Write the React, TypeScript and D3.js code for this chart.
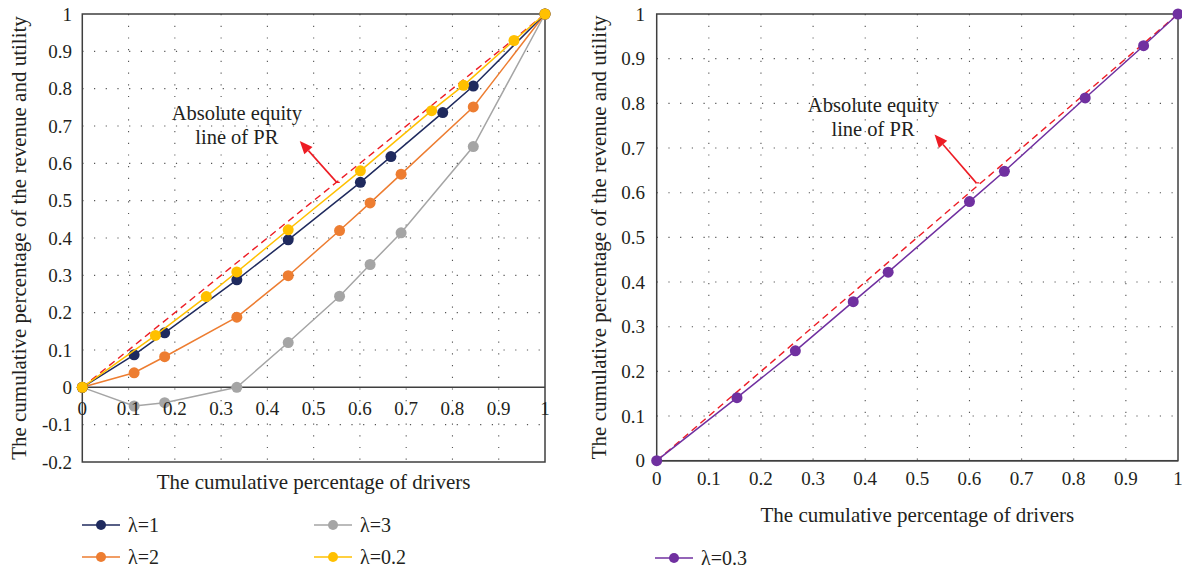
import * as d3 from 'd3';

// ---- data ----
const leftSeriesNames = ['λ=1', 'λ=2', 'λ=3', 'λ=0.2'];
const leftColors = ['#1f2a5e', '#ed7d31', '#a5a5a5', '#ffc000'];

const lambda1X = [0, 0.112, 0.178, 0.334, 0.445, 0.601, 0.667, 0.779, 0.845, 1];
const lambda1Y = [0, 0.087, 0.146, 0.288, 0.395, 0.549, 0.618, 0.736, 0.807, 1];

const lambda2X = [0, 0.112, 0.178, 0.334, 0.445, 0.556, 0.622, 0.689, 0.845, 1];
const lambda2Y = [0, 0.039, 0.082, 0.188, 0.299, 0.42, 0.494, 0.571, 0.751, 1];

const lambda3X = [0, 0.112, 0.178, 0.334, 0.445, 0.556, 0.622, 0.689, 0.845, 1];
const lambda3Y = [0, -0.05, -0.041, 0, 0.12, 0.244, 0.329, 0.414, 0.645, 1];

const lambda02X = [0, 0.158, 0.268, 0.334, 0.445, 0.601, 0.755, 0.824, 0.933, 1];
const lambda02Y = [0, 0.139, 0.243, 0.309, 0.422, 0.58, 0.741, 0.809, 0.929, 1];

const rightSeriesName = 'λ=0.3';
const rightColor = '#7030a0';
const lambda03X = [0, 0.154, 0.266, 0.377, 0.444, 0.6, 0.667, 0.822, 0.934, 1];
const lambda03Y = [0, 0.141, 0.246, 0.356, 0.422, 0.58, 0.648, 0.812, 0.929, 1];

// absolute equity line of PR
const equityX = [0, 1];
const equityY = [0, 1];

const xTicks = [0, 0.1, 0.2, 0.3, 0.4, 0.5, 0.6, 0.7, 0.8, 0.9, 1];
const xTickLabels = ['0', '0.1', '0.2', '0.3', '0.4', '0.5', '0.6', '0.7', '0.8', '0.9', '1'];
const leftYTicks = [-0.2, -0.1, 0, 0.1, 0.2, 0.3, 0.4, 0.5, 0.6, 0.7, 0.8, 0.9, 1];
const leftYTickLabels = ['-0.2', '-0.1', '0', '0.1', '0.2', '0.3', '0.4', '0.5', '0.6', '0.7', '0.8', '0.9', '1'];
const rightYTicks = [0, 0.1, 0.2, 0.3, 0.4, 0.5, 0.6, 0.7, 0.8, 0.9, 1];
const rightYTickLabels = ['0', '0.1', '0.2', '0.3', '0.4', '0.5', '0.6', '0.7', '0.8', '0.9', '1'];

const annotationLines = ['Absolute equity', 'line of PR'];

const FONT = '"Liberation Serif", "DejaVu Serif", serif';
const TEXT = '#231f20';
const FRAME = '#3f3f3f';

type Series = { name: string; color: string; xs: number[]; ys: number[] };

function Arrow({ x1, y1, x2, y2 }: { x1: number; y1: number; x2: number; y2: number }) {
  const ang = Math.atan2(y2 - y1, x2 - x1);
  const len = 13, half = 5.5;
  const bx = x2 - len * Math.cos(ang), by = y2 - len * Math.sin(ang);
  const px = -Math.sin(ang) * half, py = Math.cos(ang) * half;
  return (
    <g>
      <line x1={x1} y1={y1} x2={bx} y2={by} stroke="#ed1c24" strokeWidth={1.6} />
      <line x1={x1 - 1} y1={y1} x2={x1 + 3} y2={y1} stroke="#ed1c24" strokeWidth={1.2} />
      <polygon points={`${x2},${y2} ${bx + px},${by + py} ${bx - px},${by - py}`} fill="#ed1c24" />
    </g>
  );
}

function Panel(props: {
  x: d3.ScaleLinear<number, number>;
  y: d3.ScaleLinear<number, number>;
  yTicks: number[];
  yTickLabels: string[];
  series: Series[];
  xLabelY: number;
  xTickY: number;
  yTitleX: number;
  yTickX: number;
  note: { tx: number; ty: number[]; ax1: number; ay1: number; ax2: number; ay2: number };
}) {
  const { x, y, yTicks, yTickLabels, series } = props;
  const [x0, x1] = [x(0), x(1)];
  const [yTop, yBot] = [y(1), y(yTicks[0])];
  const line = d3.line<[number, number]>().x(d => x(d[0])).y(d => y(d[1]));
  const eq = line(equityX.map((v, i) => [v, equityY[i]]) as [number, number][]) || '';
  return (
    <g fontFamily={FONT} fill={TEXT}>
      {/* grid */}
      {xTicks.slice(1, -1).map(t => (
        <line key={'gx' + t} x1={x(t)} x2={x(t)} y1={yTop} y2={yBot}
          stroke="#555" strokeWidth={1.1} strokeDasharray="1.2,10.5" />
      ))}
      {yTicks.filter(t => t !== 0 && t !== 1 && t !== yTicks[0]).map(t => (
        <line key={'gy' + t} x1={x0} x2={x1} y1={y(t)} y2={y(t)}
          stroke="#555" strokeWidth={1.1} strokeDasharray="1.2,10.5" />
      ))}
      {/* frame */}
      <rect x={x0} y={yTop} width={x1 - x0} height={yBot - yTop} fill="none" stroke={FRAME} strokeWidth={1.5} />
      <line x1={x0} x2={x1} y1={y(0)} y2={y(0)} stroke={FRAME} strokeWidth={1.5} />
      {/* equity line */}
      <path d={eq} fill="none" stroke="#ed1c24" strokeWidth={1.4} strokeDasharray="7,4.5" />
      {/* series */}
      {series.map(s => {
        const pts = s.xs.map((v, i) => [v, s.ys[i]] as [number, number]);
        return (
          <g key={s.name}>
            <path d={line(pts) || ''} fill="none" stroke={s.color} strokeWidth={1.5} />
            {pts.map((p, i) => (
              <circle key={i} cx={x(p[0])} cy={y(p[1])} r={5.5} fill={s.color} />
            ))}
          </g>
        );
      })}
      {/* ticks */}
      {xTicks.map((t, i) => (
        <text key={'xt' + t} x={x(t)} y={props.xTickY} dy="0.35em" textAnchor="middle" fontSize={19}>{xTickLabels[i]}</text>
      ))}
      {yTicks.map((t, i) => (
        <text key={'yt' + t} x={props.yTickX} y={y(t)} dy="0.35em" textAnchor="end" fontSize={19}>{yTickLabels[i]}</text>
      ))}
      {/* titles */}
      <text x={(x0 + x1) / 2} y={props.xLabelY} dy="0.35em" textAnchor="middle" fontSize={21}>The cumulative percentage of drivers</text>
      <text transform={`translate(${props.yTitleX},${(yTop + yBot) / 2}) rotate(-90)`} textAnchor="middle" fontSize={21}>
        The cumulative percentage of the revenue and utility
      </text>
      {/* annotation */}
      {annotationLines.map((t, i) => (
        <text key={t} x={x(props.note.tx)} y={y(props.note.ty[i])} dy="0.35em" textAnchor="middle" fontSize={20.5}>{t}</text>
      ))}
      <Arrow x1={x(props.note.ax1)} y1={y(props.note.ay1)} x2={x(props.note.ax2)} y2={y(props.note.ay2)} />
    </g>
  );
}

function LegendItem({ x, y, color, label }: { x: number; y: number; color: string; label: string }) {
  return (
    <g>
      <line x1={x} x2={x + 38} y1={y} y2={y} stroke={color} strokeWidth={1.5} />
      <circle cx={x + 19} cy={y} r={5} fill={color} />
      <text x={x + 46} y={y} dy="0.35em" fontSize={20} fontFamily={FONT} fill={TEXT}>{label}</text>
    </g>
  );
}

export default function App() {
  const xl = d3.scaleLinear().domain([0, 1]).range([82.3, 545]);
  const yl = d3.scaleLinear().domain([-0.2, 1]).range([462, 14]);
  const xr = d3.scaleLinear().domain([0, 1]).range([656.7, 1178]);
  const yr = d3.scaleLinear().domain([0, 1]).range([460.7, 14]);

  const leftXs = [lambda1X, lambda2X, lambda3X, lambda02X];
  const leftYs = [lambda1Y, lambda2Y, lambda3Y, lambda02Y];
  // draw order: gray, orange, navy, yellow on top
  const order = [2, 1, 0, 3];
  const leftSeries: Series[] = order.map(i => ({
    name: leftSeriesNames[i], color: leftColors[i], xs: leftXs[i], ys: leftYs[i],
  }));
  const rightSeries: Series[] = [{ name: rightSeriesName, color: rightColor, xs: lambda03X, ys: lambda03Y }];

  return (
    <svg width={1182} height={571} style={{ position: 'absolute', left: 0, top: 0, background: '#fff' }}>
      <rect width={1182} height={571} fill="#fff" />
      <Panel x={xl} y={yl} yTicks={leftYTicks} yTickLabels={leftYTickLabels} series={leftSeries}
        xTickY={408} xLabelY={482} yTitleX={26} yTickX={72}
        note={{ tx: 0.334, ty: [0.735, 0.672], ax1: 0.55, ay1: 0.549, ax2: 0.47, ay2: 0.66 }} />
      <Panel x={xr} y={yr} yTicks={rightYTicks} yTickLabels={rightYTickLabels} series={rightSeries}
        xTickY={478} xLabelY={515} yTitleX={606} yTickX={645}
        note={{ tx: 0.415, ty: [0.797, 0.743], ax1: 0.613, ay1: 0.622, ax2: 0.533, ay2: 0.73 }} />
      <LegendItem x={82} y={525} color={leftColors[0]} label={leftSeriesNames[0]} />
      <LegendItem x={314} y={525} color={leftColors[2]} label={leftSeriesNames[2]} />
      <LegendItem x={82} y={557} color={leftColors[1]} label={leftSeriesNames[1]} />
      <LegendItem x={314} y={557} color={leftColors[3]} label={leftSeriesNames[3]} />
      <LegendItem x={655} y={558} color={rightColor} label={rightSeriesName} />
    </svg>
  );
}
